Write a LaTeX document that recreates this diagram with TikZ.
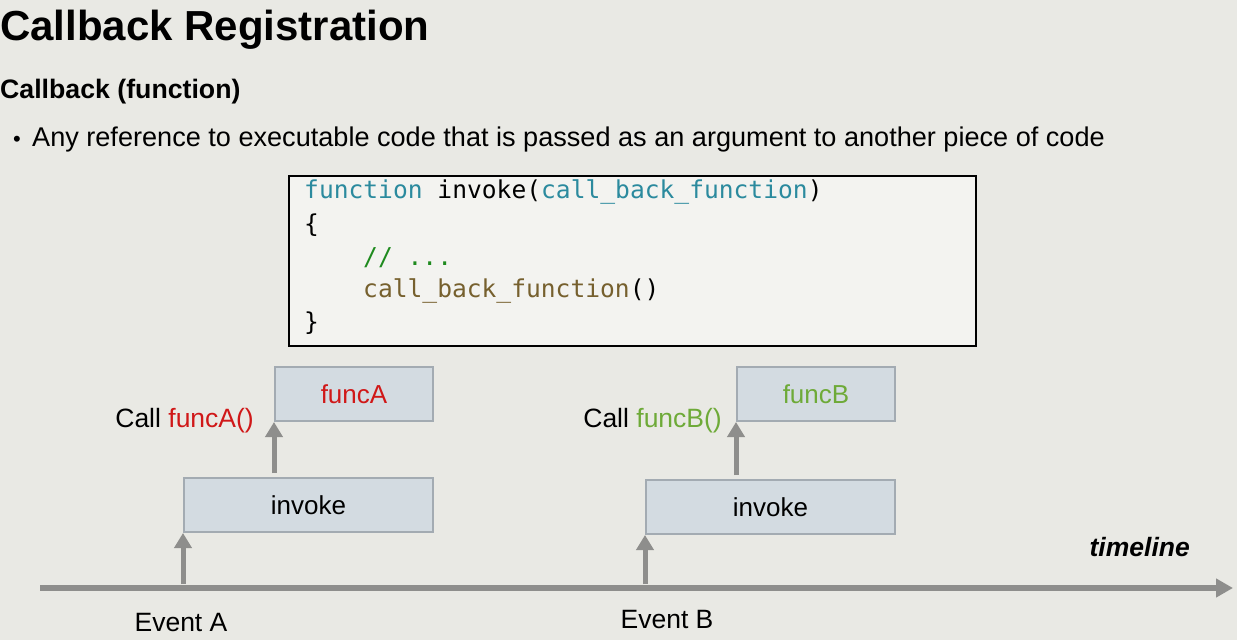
\documentclass[tikz,border=0pt]{standalone}
\usepackage{fontspec}
\setmainfont{Liberation Sans}
\newfontfamily\codefont{DejaVu Sans Mono}
\usetikzlibrary{arrows.meta}
\definecolor{bg}{HTML}{E9E9E4}
\definecolor{boxfill}{HTML}{D3DBE1}
\definecolor{boxline}{HTML}{A3ABB2}
\definecolor{arrgray}{HTML}{8E8E8C}
\definecolor{kw}{HTML}{2B8A9E}
\definecolor{cmt}{HTML}{1E8A1E}
\definecolor{callc}{HTML}{76602E}
\definecolor{redf}{HTML}{D01818}
\definecolor{greenf}{HTML}{6EAA38}
\tikzset{
  px/.style={x=1pt,y=-1pt},
  blockbox/.style={draw=boxline, line width=2pt, fill=boxfill, anchor=north west,
    minimum width=158pt, minimum height=54pt, inner sep=0pt, font=\fontsize{26}{30}\selectfont},
  upar/.style={draw=arrgray, line width=5pt, -{Triangle[length=15pt,width=17pt]}},
  lbl/.style={font=\fontsize{26.5}{30}\selectfont, inner sep=0pt},
  codeline/.style={anchor=base west, inner sep=0pt, font=\codefont\fontsize{24.6}{30}\selectfont},
}
\begin{document}
\begin{tikzpicture}[px]
  \useasboundingbox (0,0) rectangle (1237,640);
  \fill[bg] (0,0) rectangle (1237,640);

  % headings
  \node[anchor=base west, inner sep=0pt, font=\bfseries\fontsize{42}{46}\selectfont] (title) at (0,40) {Callback Registration};
  \node[anchor=base west, inner sep=0pt, font=\bfseries\fontsize{26.7}{30}\selectfont] (sub) at (0,98) {Callback (function)};
  \node[anchor=base west, inner sep=0pt, font=\fontsize{22}{30}\selectfont] (bul) at (13,146) {\textbullet};
  \node[anchor=base west, inner sep=0pt, font=\fontsize{27.1}{30}\selectfont] (desc) at (32,146) {Any reference to executable code that is passed as an argument to another piece of code};

  % code listing
  \node[draw=black, line width=1.5pt, fill=bg!55!white, anchor=north west, minimum width=687pt, minimum height=170pt, inner sep=0pt] (code) at (288,175) {};
  \node[codeline] (c1) at (304,198) {\textcolor{kw}{function} invoke(\textcolor{kw}{call\_back\_function})};
  \node[codeline] (c2) at (304,232) {\{};
  \node[codeline] (c3) at (363,265) {\textcolor{cmt}{// ...}};
  \node[codeline] (c4) at (363,297) {\textcolor{callc}{call\_back\_function}()};
  \node[codeline] (c5) at (304,330) {\}};

  % blocks
  \node[blockbox, text=redf] (fa) at (274,366) {funcA};
  \node[blockbox, minimum width=249pt] (ia) at (183,477) {invoke};
  \node[blockbox, text=greenf] (fb) at (736,366) {funcB};
  \node[blockbox, minimum width=249pt] (ib) at (645,479) {invoke};

  \node[lbl, anchor=base east] (callA) at (254,427) {Call \textcolor{redf}{funcA()}};
  \node[lbl, anchor=base east] (callB) at (722,427) {Call \textcolor{greenf}{funcB()}};

  % timeline
  \coordinate (t0) at (40,588);
  \coordinate (t1) at (1233,588);
  \draw[draw=arrgray, line width=6pt, -{Triangle[length=17pt,width=18pt]}] (t0) -- (t1);
  \node[lbl, font=\bfseries\itshape\fontsize{26.5}{30}\selectfont, anchor=base east] (tl) at (1190,556) {timeline};

  \coordinate (evA) at (183,584);
  \coordinate (evB) at (645,584);
  \node[lbl, anchor=base] (evAl) at (181,631) {Event A};
  \node[lbl, anchor=base] (evBl) at (667,628) {Event B};

  % calls
  \draw[upar] (evA) -- (ia.south west);
  \draw[upar] (evB) -- (ib.south west);
  \draw[upar] (ia.north west -| fa.south west) ++(0,-4) -- (fa.south west);
  \draw[upar] (ib.north west -| fb.south west) ++(0,-4) -- (fb.south west);
\end{tikzpicture}
\end{document}
